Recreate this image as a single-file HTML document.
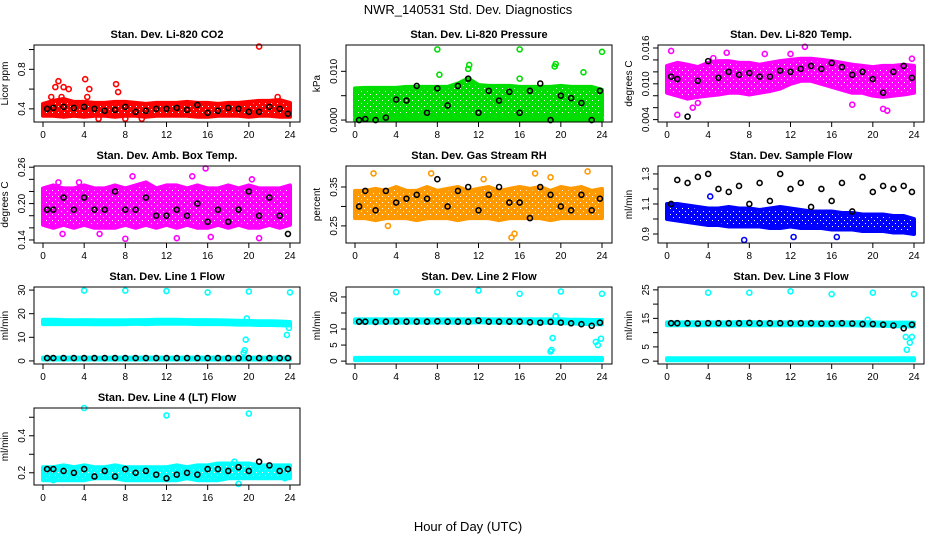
<!DOCTYPE html>
<html><head><meta charset="utf-8"><style>
body{margin:0;background:#fff}
svg text{font-family:"Liberation Sans",sans-serif}
</style></head><body>
<svg id="chart" width="936" height="540" xmlns="http://www.w3.org/2000/svg">
<defs id="defs"></defs>
<text x="468" y="14" font-size="13" text-anchor="middle">NWR_140531  Std. Dev. Diagnostics</text>
<text x="468" y="531" font-size="13" text-anchor="middle">Hour of Day (UTC)</text>
</svg>
<script>
const hoursTicks=[0,4,8,12,16,20,24];
// CO2
const co2Lo=[.33,.33,.32,.33,.32,.33,.33,.32,.33,.33,.32,.33,.33,.33,.33,.32,.32,.33,.33,.33,.32,.33,.33,.32,.32];
const co2Hi=[.45,.48,.50,.47,.47,.46,.46,.47,.47,.46,.45,.46,.46,.46,.47,.46,.46,.45,.46,.46,.47,.48,.48,.49,.46];
const co2OutH=[1.2,1.5,2,2.5,4.1,4.5,7.1,7.3,21,0.8,5.4,8,22.8,1.8,4.3,9.6];
const co2OutV=[.62,.68,.62,.60,.70,.60,.65,.57,1.03,.52,.30,.30,.52,.52,.52,.30];
const co2Black=[.40,.41,.42,.41,.42,.40,.38,.39,.42,.37,.38,.40,.40,.41,.39,.44,.36,.38,.41,.40,.37,.37,.42,.40,.35];
// Pressure
const prLo=[.0008,.0008,.0008,.0008,.0008,.0008,.0008,.0008,.0008,.0008,.0008,.0008,.0008,.0008,.0008,.0008,.0008,.0008,.0008,.0008,.0008,.0008,.0008,.0008,.0008];
const prHi=[.0065,.0066,.0066,.0066,.0066,.0068,.0068,.0068,.0068,.0068,.0075,.0085,.0072,.0070,.0070,.0070,.0068,.0068,.0068,.0068,.0070,.0068,.0068,.0068,.0062];
const prBaseLo=[0,0,0,0,0,0,0,0,0,0,0,0,0,0,0,0,0,0,0,0,0,0,0,0,0];
const prBaseHi=[.0002,.0002,.0002,.0002,.0002,.0002,.0002,.0002,.0002,.0002,.0002,.0002,.0002,.0002,.0002,.0002,.0002,.0002,.0002,.0002,.0002,.0002,.0002,.0002,.0002];
const prOutH=[8,16,24,11.1,19.5,22.2,8.2,16,19.4,11];
const prOutV=[.0145,.0145,.0140,.0113,.0115,.0098,.0093,.0085,.0110,.0105];
const prBlack=[.0000,.0002,.0000,.0005,.0042,.0040,.0070,.0015,.0065,.0030,.0070,.0085,.0015,.0060,.0040,.0058,.0015,.0060,.0075,.0000,.0050,.0045,.0035,.0000,.0060];
// Li-820 Temp
const tpLo=[.0085,.0080,.0075,.0078,.0080,.0082,.0085,.0085,.0082,.0085,.0088,.0092,.0100,.0105,.0105,.0100,.0095,.0090,.0085,.0085,.0080,.0078,.0080,.0082,.0085];
const tpHi=[.0130,.0135,.0132,.0128,.0135,.0138,.0138,.0135,.0135,.0132,.0135,.0138,.0140,.0142,.0142,.0140,.0138,.0135,.0132,.0130,.0128,.0130,.0130,.0132,.0130];
const tpOutH=[0.4,1,2.5,3,5.8,13.4,12,18,21,21.4,23.8,9.5,4.5];
const tpOutV=[.0155,.0048,.0060,.0068,.0152,.0162,.0150,.0065,.0058,.0055,.0142,.0150,.0143];
const tpBlack=[.0112,.0108,.0045,.0105,.0138,.0110,.0120,.0115,.0118,.0112,.0112,.0122,.0120,.0125,.0130,.0125,.0135,.0128,.0115,.0120,.0108,.0085,.0120,.0130,.0110];
// Amb Box Temp
const abLo=[.165,.160,.165,.160,.165,.160,.160,.160,.165,.160,.165,.160,.165,.160,.165,.160,.160,.165,.160,.165,.160,.160,.165,.160,.165];
const abHi=[.225,.230,.225,.225,.230,.225,.225,.230,.225,.230,.235,.225,.230,.230,.225,.230,.225,.225,.230,.225,.230,.225,.225,.225,.230];
const abOutH=[1.5,3.5,8.7,14.5,15.8,20.3,16.3,8,13,21,1.9,5.5];
const abOutV=[.235,.235,.245,.245,.258,.240,.145,.142,.143,.143,.150,.150];
const abBlack=[.19,.19,.21,.19,.21,.19,.19,.22,.19,.19,.21,.18,.18,.19,.18,.20,.17,.19,.17,.19,.22,.18,.21,.18,.15];
// Gas Stream RH
const rhLo=[.27,.27,.265,.27,.27,.27,.265,.27,.27,.27,.265,.27,.27,.27,.265,.27,.27,.27,.27,.265,.27,.27,.27,.27,.27];
const rhHi=[.34,.34,.345,.34,.35,.34,.34,.35,.34,.345,.35,.34,.345,.35,.34,.345,.35,.345,.35,.34,.35,.345,.35,.34,.345];
const rhOutH=[1.8,7.4,15.2,15.5,17.5,22.6,3.2,12.5,19];
const rhOutV=[.385,.385,.22,.23,.385,.39,.25,.37,.375];
const rhBlack=[.30,.34,.29,.34,.31,.32,.33,.32,.37,.30,.34,.35,.29,.33,.35,.31,.31,.27,.35,.33,.30,.29,.33,.29,.32];
// Sample Flow
const sfLo=[1.00,.99,.98,.97,.96,.96,.95,.95,.95,.95,.94,.94,.95,.94,.94,.94,.93,.93,.93,.92,.92,.92,.91,.91,.90];
const sfHi=[1.10,1.10,1.09,1.08,1.07,1.07,1.08,1.07,1.07,1.06,1.07,1.08,1.07,1.06,1.05,1.05,1.05,1.04,1.04,1.03,1.03,1.03,1.02,1.02,1.00];
const sfOutH=[7.5,12.3,4.2,16.5];
const sfOutV=[.86,.88,1.15,.88];
const sfBlack=[1.10,1.26,1.24,1.28,1.30,1.20,1.18,1.22,1.10,1.24,1.12,1.30,1.20,1.24,1.08,1.20,1.12,1.24,1.05,1.28,1.18,1.22,1.20,1.22,1.18];
// Line 1 Flow
const l1Lo=[15.6,15.6,15.6,15.6,15.6,15.5,15.5,15.5,15.6,15.7,15.6,15.7,15.8,15.7,15.7,15.6,15.6,15.6,15.5,15.4,15.4,15.2,15.2,15.1,15.0];
const l1Hi=[17.4,17.4,17.3,17.2,17.3,17.2,17.2,17.2,17.2,17.3,17.3,17.4,17.4,17.4,17.3,17.3,17.3,17.2,17.1,17.0,16.9,16.8,16.8,16.7,16.5];
const l1BLo=[0.6,0.6,0.6,0.6,0.6,0.6,0.6,0.6,0.6,0.6,0.6,0.6,0.6,0.6,0.6,0.6,0.6,0.6,0.6,0.6,0.6,0.6,0.6,0.6,0.6];
const l1BHi=[1.4,1.4,1.4,1.4,1.4,1.4,1.4,1.4,1.4,1.4,1.4,1.4,1.4,1.4,1.4,1.4,1.4,1.4,1.4,1.4,1.4,1.4,1.4,1.4,1.4];
const l1OutH=[4,8,12,16,20,24,19.5,19.6,19.7,19.8,23.7,23.9];
const l1OutV=[29.8,29.8,29.6,29,29.4,29,3.5,4.5,9,18,11,14];
const l1Black=[1.2,1.2,1.2,1.2,1.2,1.2,1.2,1.2,1.2,1.2,1.2,1.2,1.2,1.2,1.2,1.2,1.2,1.2,1.2,1.2,1.2,1.2,1.2,1.2,1.2];
// Line 2 Flow
const l2Lo=[12.0,12.0,12.0,12.0,12.0,12.0,12.0,12.0,12.0,12.0,12.0,12.0,12.1,12.0,12.0,12.0,12.0,12.0,11.9,11.9,11.8,11.8,11.6,11.5,11.5];
const l2Hi=[13.0,13.0,13.0,13.0,13.0,13.0,13.0,13.0,13.0,13.0,13.0,13.0,13.1,13.0,13.0,13.0,13.0,13.0,13.0,13.0,13.0,12.9,12.9,12.8,12.8];
const l2BLo=[0.3,0.3,0.3,0.3,0.3,0.3,0.3,0.3,0.3,0.3,0.3,0.3,0.3,0.3,0.3,0.3,0.3,0.3,0.3,0.3,0.3,0.3,0.3,0.3,0.3];
const l2BHi=[1.0,1.0,1.0,1.0,1.0,1.0,1.0,1.0,1.0,1.0,1.0,1.0,1.0,1.0,1.0,1.0,1.0,1.0,1.0,1.0,1.0,1.0,1.0,1.0,1.0];
const l2OutH=[4,8,12,16,20,24,19,19.1,19.2,19.5,23.4,23.6,23.9];
const l2OutV=[21.5,21.5,22,21,21.7,21,3,3.5,7.2,14,6,5,7];
const l2Black=[12.3,12.3,12.2,12.3,12.3,12.3,12.3,12.3,12.4,12.3,12.3,12.3,12.6,12.3,12.3,12.3,12.3,12.1,12.0,12.2,12.0,11.8,11.5,11.0,12.0];
// Line 3 Flow
const l3Lo=[12.6,12.6,12.6,12.6,12.6,12.6,12.6,12.6,12.6,12.6,12.6,12.6,12.6,12.6,12.6,12.6,12.6,12.6,12.6,12.5,12.5,12.4,12.3,12.2,12.2];
const l3Hi=[13.6,13.6,13.6,13.6,13.6,13.6,13.6,13.7,13.7,13.6,13.6,13.6,13.6,13.6,13.6,13.6,13.6,13.6,13.6,13.7,13.6,13.5,13.5,13.5,13.5];
const l3BLo=[0.3,0.3,0.3,0.3,0.3,0.3,0.3,0.3,0.3,0.3,0.3,0.3,0.3,0.3,0.3,0.3,0.3,0.3,0.3,0.3,0.3,0.3,0.3,0.3,0.3];
const l3BHi=[1.0,1.0,1.0,1.0,1.0,1.0,1.0,1.0,1.0,1.0,1.0,1.0,1.0,1.0,1.0,1.0,1.0,1.0,1.0,1.0,1.0,1.0,1.0,1.0,1.0];
const l3OutH=[4,8,12,16,20,24,23.2,23.3,23.6,23.8,19.5];
const l3OutV=[24,24,24.5,23.5,24,23.5,8.5,4,6.5,8.5,14.5];
const l3Black=[13.3,13.3,13.3,13.2,13.3,13.3,13.3,13.3,13.4,13.3,13.3,13.3,13.3,13.3,13.3,13.2,13.2,13.3,13.2,13.0,13.0,12.8,12.5,11.5,12.8];
// Line 4 Flow
const l4Lo=[.16,.16,.16,.16,.16,.17,.17,.17,.16,.16,.16,.16,.16,.16,.17,.16,.16,.16,.17,.17,.17,.17,.17,.17,.17];
const l4Hi=[.23,.23,.24,.23,.24,.23,.23,.24,.23,.23,.23,.23,.23,.24,.23,.24,.24,.25,.25,.25,.25,.24,.24,.24,.24];
const l4OutH=[4,12,20,19,18.6,1,23.5];
const l4OutV=[.55,.51,.52,.14,.26,.16,.17];
const l4Black=[.22,.22,.21,.20,.22,.18,.21,.18,.22,.20,.21,.19,.17,.19,.20,.19,.22,.22,.21,.23,.21,.26,.24,.21,.22];

const hourIdx=[0,1,2,3,4,5,6,7,8,9,10,11,12,13,14,15,16,17,18,19,20,21,22,23,24];

const panels=[
 {name:'co2',title:'Stan. Dev. Li-820 CO2',ylab:'Licor ppm',r:0,c:0,ymin:.267,ymax:1.046,ticks:[.4,.6,.8,1.0],labs:['0.4','','0.8',''],col:'#ff0000',bands:[[co2Lo,co2Hi]],oh:co2OutH,ov:co2OutV,blk:co2Black},
 {name:'pressure',title:'Stan. Dev. Li-820 Pressure',ylab:'kPa',r:0,c:1,ymin:-.0004,ymax:.0154,ticks:[0,.005,.010],labs:['0.000','','0.010'],col:'#00dd00',bands:[[prLo,prHi],[prBaseLo,prBaseHi]],oh:prOutH,ov:prOutV,blk:prBlack},
 {name:'temp',title:'Stan. Dev. Li-820 Temp.',ylab:'degrees C',r:0,c:2,ymin:.0036,ymax:.0165,ticks:[.004,.006,.008,.010,.012,.014,.016],labs:['0.004','','','0.010','','','0.016'],col:'#ff00ff',bands:[[tpLo,tpHi]],oh:tpOutH,ov:tpOutV,blk:tpBlack},
 {name:'amb-box-temp',title:'Stan. Dev. Amb. Box Temp.',ylab:'degrees C',r:1,c:0,ymin:.135,ymax:.262,ticks:[.14,.16,.18,.20,.22,.24,.26],labs:['0.14','','','0.20','','','0.26'],col:'#ff00ff',bands:[[abLo,abHi]],oh:abOutH,ov:abOutV,blk:abBlack},
 {name:'gas-rh',title:'Stan. Dev. Gas Stream RH',ylab:'percent',r:1,c:1,ymin:.206,ymax:.404,ticks:[.25,.30,.35],labs:['0.25','','0.35'],col:'#ff9900',bands:[[rhLo,rhHi]],oh:rhOutH,ov:rhOutV,blk:rhBlack},
 {name:'sample-flow',title:'Stan. Dev. Sample Flow',ylab:'ml/min',r:1,c:2,ymin:.84,ymax:1.353,ticks:[.9,1.0,1.1,1.2,1.3],labs:['0.9','','1.1','','1.3'],col:'#0000ff',bands:[[sfLo,sfHi]],oh:sfOutH,ov:sfOutV,blk:sfBlack},
 {name:'line1-flow',title:'Stan. Dev. Line 1 Flow',ylab:'ml/min',r:2,c:0,ymin:-1.3,ymax:31.3,ticks:[0,10,20,30],labs:['0','10','20','30'],col:'#00ffff',bands:[[l1Lo,l1Hi],[l1BLo,l1BHi]],oh:l1OutH,ov:l1OutV,blk:l1Black},
 {name:'line2-flow',title:'Stan. Dev. Line 2 Flow',ylab:'ml/min',r:2,c:1,ymin:-.9,ymax:23.1,ticks:[0,5,10,15,20],labs:['0','5','10','','20'],col:'#00ffff',bands:[[l2Lo,l2Hi],[l2BLo,l2BHi]],oh:l2OutH,ov:l2OutV,blk:l2Black},
 {name:'line3-flow',title:'Stan. Dev. Line 3 Flow',ylab:'ml/min',r:2,c:2,ymin:-1,ymax:26,ticks:[0,5,10,15,20,25],labs:['0','5','','15','','25'],col:'#00ffff',bands:[[l3Lo,l3Hi],[l3BLo,l3BHi]],oh:l3OutH,ov:l3OutV,blk:l3Black},
 {name:'line4-flow',title:'Stan. Dev. Line 4 (LT) Flow',ylab:'ml/min',r:3,c:0,ymin:.134,ymax:.55,ticks:[.2,.3,.4,.5],labs:['0.2','','0.4',''],col:'#00ffff',bands:[[l4Lo,l4Hi]],oh:l4OutH,ov:l4OutV,blk:l4Black}
];
const NS='http://www.w3.org/2000/svg';
const svg=document.getElementById('chart');
const defs=document.getElementById('defs');
function mk(tag,attrs,parent){const e=document.createElementNS(NS,tag);for(const k in attrs)e.setAttribute(k,attrs[k]);parent.appendChild(e);return e;}
const patMade={};
function pat(col){
 const id='pat'+col.slice(1);
 if(!patMade[id]){
  const p=mk('pattern',{id:id,width:6,height:6,patternUnits:'userSpaceOnUse'},defs);
  mk('rect',{width:6,height:6,fill:col},p);
  mk('rect',{x:1,y:1,width:1,height:1,fill:'#fff'},p);
  mk('rect',{x:4,y:4,width:1,height:1,fill:'#fff'},p);
  patMade[id]=1;
 }
 return 'url(#'+id+')';
}
panels.forEach(p=>{
 const L=34+312*p.c,T=45+121*p.r,W=266,H=77;
 const xs=h=>L+9+h*247/24;
 const ys=v=>T+(p.ymax-v)/(p.ymax-p.ymin)*H;
 const g=mk('g',{},svg);
 
 
 const t=mk('text',{x:L+W/2,y:T-7,'font-size':11,'font-weight':'bold','text-anchor':'middle'},g);
 t.textContent=p.title;
 
 
 p.bands.forEach(b=>{
  let d='';
  hourIdx.forEach((h,i)=>{d+=(i?'L':'M')+xs(h).toFixed(1)+','+ys(b[1][i]).toFixed(1);});
  for(let i=hourIdx.length-1;i>=0;i--)d+='L'+xs(hourIdx[i]).toFixed(1)+','+ys(b[0][i]).toFixed(1);
  const pa=mk('path',{d:d+'Z',fill:pat(p.col),stroke:p.col,'stroke-width':4,'stroke-linejoin':'round'},g);
  
  
 });
 p.oh.forEach((h,i)=>{
  const c=mk('circle',{cx:xs(h),cy:ys(p.ov[i]),r:2.5,fill:'none',stroke:p.col,'stroke-width':1.6},g);
  
  
 });
 hourIdx.forEach((h,i)=>{
  const hh=Math.min(23.8,Math.max(0.4,h));
  const c=mk('circle',{cx:xs(hh),cy:ys(p.blk[i]),r:2.5,fill:'none',stroke:'#000','stroke-width':1.6},g);
  
  
 });
 const box=mk('rect',{x:L,y:T,width:W,height:H,fill:'none',stroke:'#000','stroke-width':1},g);
 
 
 hoursTicks.forEach(h=>{
  mk('line',{x1:xs(h),x2:xs(h),y1:T+H,y2:T+H+5,stroke:'#000'},g);
  const tl=mk('text',{x:xs(h),y:T+H+16,'font-size':10,'text-anchor':'middle'},g);
  tl.textContent=h;
  
  
 });
 p.ticks.forEach((v,i)=>{
  mk('line',{x1:L-5,x2:L,y1:ys(v),y2:ys(v),stroke:'#000'},g);
  if(p.labs[i]){
   const tl=mk('text',{x:0,y:0,'font-size':10,'text-anchor':'middle',transform:`translate(${L-9},${ys(v)}) rotate(-90)`},g);
   tl.textContent=p.labs[i];
   
   
  }
 });
 const yl=mk('text',{x:0,y:0,'font-size':10,'text-anchor':'middle',transform:`translate(${L-26},${T+H/2}) rotate(-90)`},g);
 yl.textContent=p.ylab;
 
 
});
</script>
</body></html>
